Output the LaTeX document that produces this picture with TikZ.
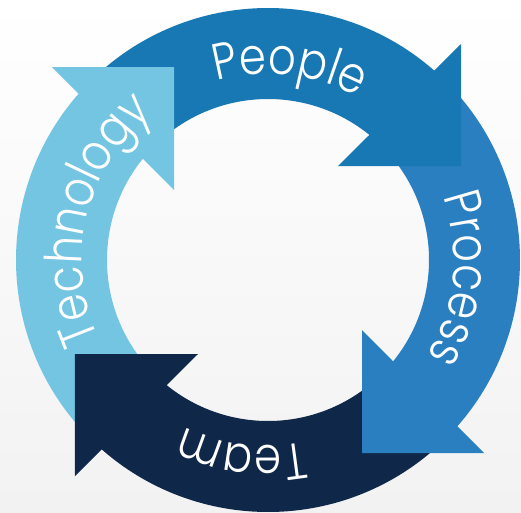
\documentclass[tikz,border=0pt]{standalone}
\usepackage{fontspec}
\setmainfont{Poppins Light}[FakeStretch=0.85]
\usepackage{tikz}
\usetikzlibrary{decorations.text}
\definecolor{peopleblue}{HTML}{1778B4}
\definecolor{processblue}{HTML}{2A7FC1}
\definecolor{teamnavy}{HTML}{0F2849}
\definecolor{techcyan}{HTML}{73C5E2}
\definecolor{floorgray}{HTML}{F2F2F2}
\newcommand{\ringfont}{\fontsize{51}{51}\selectfont}
\tikzset{
    x=1pt,
    y=1pt,
    ringbody/.style = {
        fill=#1,
        insert path={(131:252) arc[start angle=131, end angle=45, radius=252]
            -- (45:161) arc[start angle=45, end angle=131, radius=161] -- cycle}
    },
    ringhead/.style = {
        fill=#1,
        insert path={(193,216) -- (193,94) -- (70,94) -- cycle}
    },
    ringlabel/.style = {
        decorate,
        decoration={
            text along path,
            text align=center,
            text color=white,
            text={|\ringfont|#1}
        }
    },
}

\begin{document}
\begin{tikzpicture}
            \shade[top color=white, middle color=white, bottom color=floorgray] (-268,-252) rectangle (253,260);
            \useasboundingbox (-268,-252) rectangle (253,260);

            % bodies first, each head covers the next tail
            \path[rotate=0, ringbody=peopleblue];
            \path[rotate=-90, ringbody=processblue];
            \path[rotate=-180, ringbody=teamnavy];
            \path[rotate=90, ringbody=techcyan];

            \path[rotate=0, ringhead=peopleblue];
            \path[rotate=-90, ringhead=processblue];
            \path[rotate=-180, ringhead=teamnavy];
            \path[rotate=90, ringhead=techcyan];

            \path[ringlabel=People] (143.5:186) arc[start angle=143.5, end angle=23.5, radius=186];
            \path[ringlabel=Process] (54.4:186) arc[start angle=54.4, end angle=-65.6, radius=186];
            \path[ringlabel=Team] (-37.8:186) arc[start angle=-37.8, end angle=-157.8, radius=186];
            \path[ringlabel=Technology] (226.5:186) arc[start angle=226.5, end angle=106.5, radius=186];
\end{tikzpicture}
\end{document}
